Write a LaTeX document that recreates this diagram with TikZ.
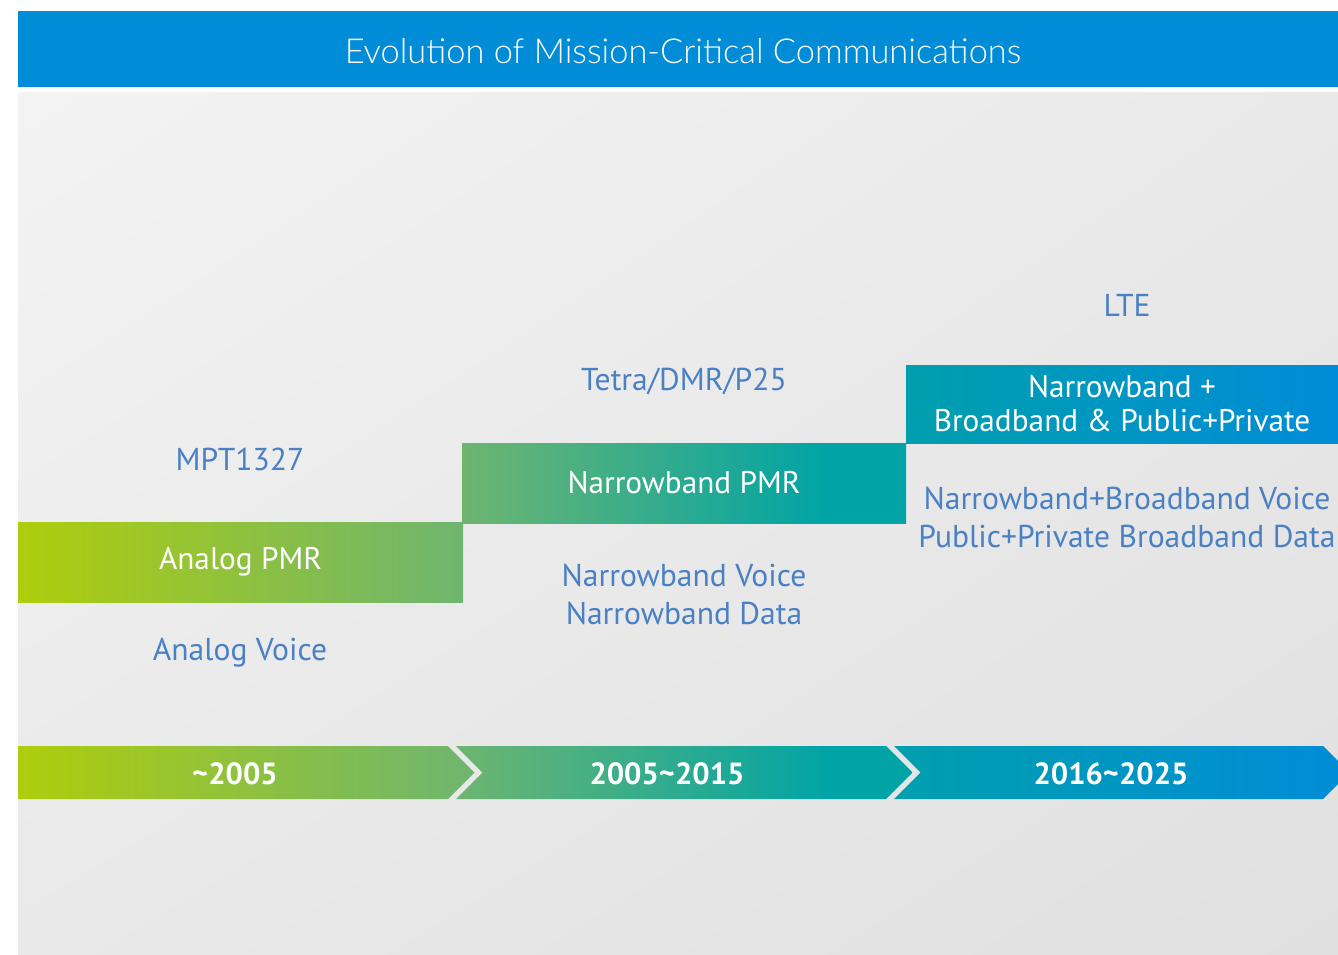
\documentclass[tikz,border=0pt]{standalone}
\usepackage{fontspec}
\usetikzlibrary{shadings}
\setmainfont{PT Sans}
\newfontfamily\titlefont{Lato Light}

\definecolor{headblue}{HTML}{008CD7}
\definecolor{cLime}{HTML}{AFCD0C}
\definecolor{cGreen}{HTML}{6EB570}
\definecolor{cTeal}{HTML}{00A4A6}
\definecolor{cTealB}{HTML}{009FAE}
\definecolor{cBlue}{HTML}{008CD8}
\definecolor{labelblue}{HTML}{4A80C4}
\definecolor{bgA}{HTML}{F3F3F3}
\definecolor{bgB}{HTML}{E9E9E9}
\definecolor{bgC}{HTML}{E0E0E0}

% horizontal colour runs for the three eras
\pgfdeclarehorizontalshading{eraA}{100bp}{color(0bp)=(cLime); color(25bp)=(cLime); color(75bp)=(cGreen); color(100bp)=(cGreen)}
\pgfdeclarehorizontalshading{eraB}{100bp}{color(0bp)=(cGreen); color(25bp)=(cGreen); color(66bp)=(cTeal); color(100bp)=(cTeal)}
\pgfdeclarehorizontalshading{eraC}{100bp}{color(0bp)=(cTealB); color(25bp)=(cTealB); color(75bp)=(cBlue); color(100bp)=(cBlue)}

\tikzset{
  phasebox/.style={anchor=north west, inner sep=0pt, outer sep=0pt, text=white,
    font=\fontsize{31.3}{34}\selectfont, align=center},
  techlabel/.style={text=labelblue, font=\fontsize{31.6}{38}\selectfont, align=center, inner sep=0pt},
  yearlabel/.style={text=white, font=\bfseries\fontsize{30.6}{34}\selectfont, inner sep=0pt},
}

\begin{document}
\begin{tikzpicture}[x=1pt,y=-1pt]
  \clip (0,0) rectangle (1338,955);
  \fill[white] (0,0) rectangle (1338,955);

  % header band
  \fill[headblue] (18,11) rectangle (1338,87);
  \node[text=white, font=\titlefont\fontsize{34.4}{38}\selectfont, inner sep=0pt] (title) at (683,51)
    {Evolution of Mission-Critical Communications};

  % backdrop
  \shade[upper left=bgA, upper right=bgB, lower left=bgB, lower right=bgC] (18,93) rectangle (1338,955);

  % stepped technology blocks
  \node[phasebox, shading=eraA, minimum width=445, minimum height=80] (analog) at (18,522) {Analog PMR};
  \node[phasebox, shading=eraB, minimum width=444, minimum height=80] (narrow) at (462,443) {Narrowband PMR};
  \node[phasebox, shading=eraC, minimum width=432, minimum height=78] (lte) at (906,365)
    {Narrowband +\\Broadband \& Public+Private};

  % technology names and services
  \node[techlabel] (mpt) at (240,459) {MPT1327};
  \node[techlabel] (avoice) at (240,653) {Analog Voice};
  \node[techlabel] (tetra) at (684,381) {Tetra/DMR/P25};
  \node[techlabel] (nbserv) at (684,594) {Narrowband Voice\\Narrowband Data};
  \node[techlabel] (ltename) at (1127,305) {LTE};
  \node[techlabel] (bbserv) at (1127,517) {Narrowband+Broadband Voice\\Public+Private Broadband Data};

  % timeline arrow in three chevron segments
  \shade[shading=eraA] (18,746) -- (448,746) -- (474.5,772.5) -- (448,799) -- (18,799) -- cycle;
  \shade[shading=eraB] (456,746) -- (886,746) -- (912.5,772.5) -- (886,799) -- (456,799) -- (482.5,772.5) -- cycle;
  \shade[shading=eraC] (894,746) -- (1323,746) -- (1349.5,772.5) -- (1323,799) -- (894,799) -- (920.5,772.5) -- cycle;

  \node[yearlabel] (y1) at (235,774) {\textasciitilde2005};
  \node[yearlabel] (y2) at (667,774) {2005\textasciitilde2015};
  \node[yearlabel] (y3) at (1111,774) {2016\textasciitilde2025};
\end{tikzpicture}
\end{document}
